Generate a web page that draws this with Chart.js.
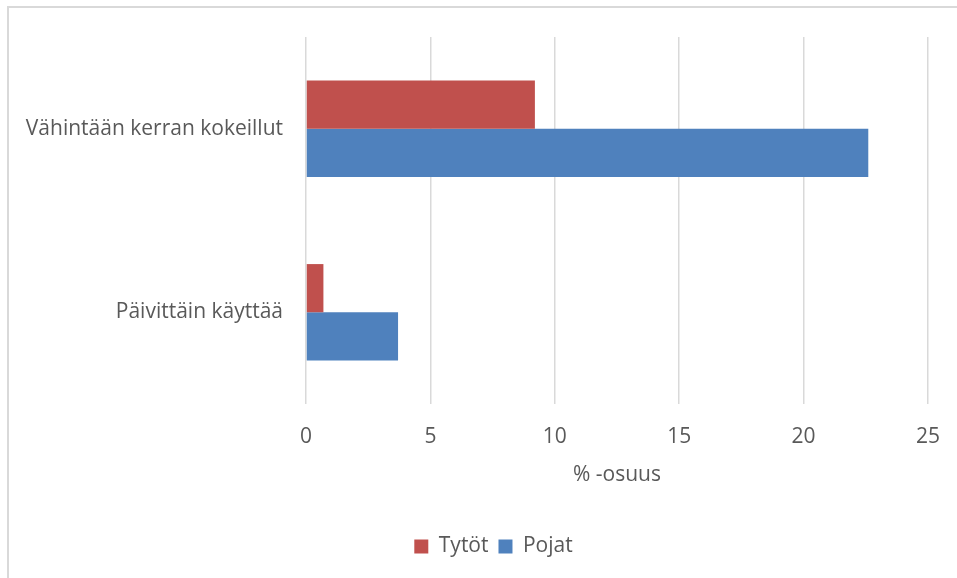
<!DOCTYPE html>
<html>
<head>
<meta charset="utf-8">
<script src="https://cdn.jsdelivr.net/npm/chart.js@4"></script>
<style>
  html, body { margin: 0; padding: 0; background: #fff; }
  #wrap { width: 957px; height: 578px; }
</style>
</head>
<body>
<div id="wrap"><canvas id="kaavio" width="957" height="578"></canvas></div>
<script>
// kategoriat ja sarjat
const kategoriat = ['Vähintään kerran kokeillut', 'Päivittäin käyttää'];
const tytot = [9.2, 0.7];
const pojat = [22.6, 3.7];
const xMax = 25;
const xStep = 5;

const teksti = '#595959';
const fontti = { family: '"Open Sans", "Liberation Sans", sans-serif', size: 21 };

// kehys kuvan ympärille (vain ylä- ja vasen reuna näkyy)
const kehys = {
    id: 'kehys',
    beforeDraw(chart) {
        const c = chart.ctx;
        c.save();
        c.strokeStyle = '#d9d9d9';
        c.lineWidth = 2;
        c.beginPath();
        c.moveTo(8, 578);
        c.lineTo(8, 7);
        c.lineTo(957, 7);
        c.stroke();
        c.restore();
    }
};

// selite hieman oikealle, kuten alkuperäisessä
const siirraSelite = {
    id: 'siirraSelite',
    afterLayout(chart) {
        chart.legend.left += 15;
        chart.legend.right += 15;
    }
};

const ctx = document.getElementById('kaavio').getContext('2d');

new Chart(ctx, {
    type: 'bar',
    data: {
        labels: kategoriat,
        datasets: [
            {
                label: 'Tytöt',
                data: tytot,
                backgroundColor: '#C0504D'
            },
            {
                label: 'Pojat',
                data: pojat,
                backgroundColor: '#4F81BD'
            }
        ]
    },
    options: {
        indexAxis: 'y',
        responsive: false,
        animation: false,
        layout: {
            padding: { top: 37, right: 0, bottom: 11, left: 0 }
        },
        datasets: {
            bar: { barPercentage: 1, categoryPercentage: 0.525 }
        },
        scales: {
            x: {
                min: 0,
                max: xMax,
                ticks: { stepSize: xStep, color: teksti, font: fontti, padding: 20 },
                grid: { color: '#d9d9d9', lineWidth: 1.5, drawTicks: false },
                border: { display: false },
                title: {
                    display: true,
                    text: '% -osuus',
                    color: teksti,
                    font: fontti,
                    padding: { top: 0, bottom: 38 }
                },
                afterFit(s) {
                    s.height = 122;
                    s.paddingRight = 29;
                }
            },
            y: {
                ticks: { color: teksti, font: fontti, padding: 23 },
                grid: { display: false, drawTicks: false },
                border: { display: false },
                afterFit(s) { s.width = 306; }
            }
        },
        plugins: {
            legend: {
                position: 'bottom',
                labels: {
                    color: teksti,
                    font: fontti,
                    boxWidth: 14,
                    boxHeight: 14,
                    padding: 10
                }
            },
            tooltip: { enabled: false }
        }
    },
    plugins: [kehys, siirraSelite]
});
</script>
</body>
</html>
